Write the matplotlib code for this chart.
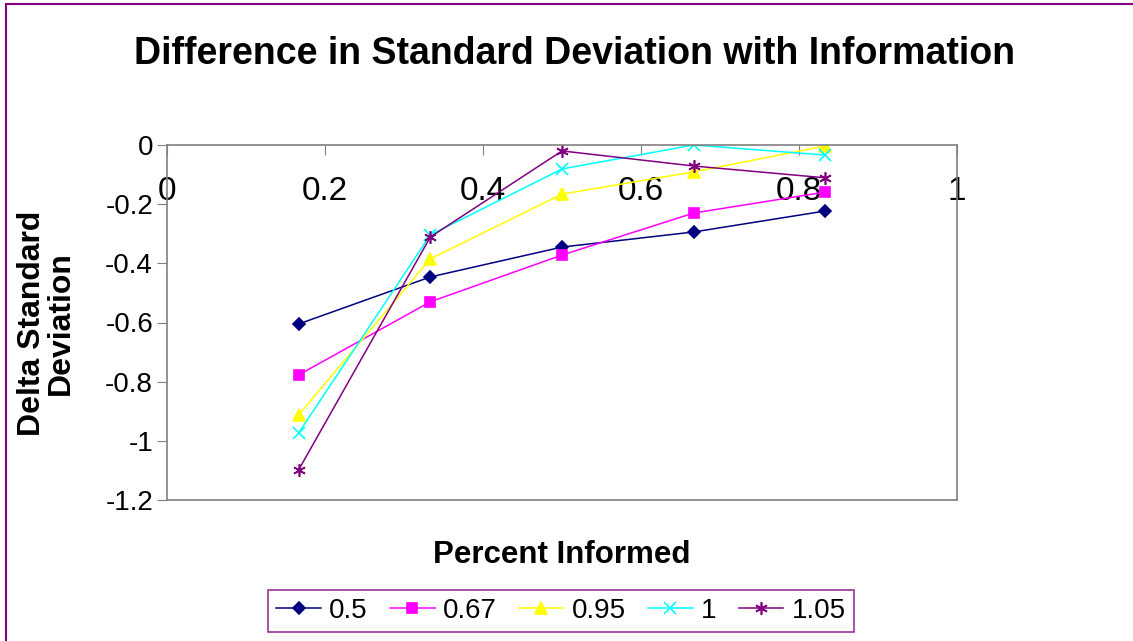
import matplotlib; matplotlib.use("Agg")
import matplotlib.pyplot as plt
from matplotlib.patches import Rectangle

plt.rcParams["font.family"] = ["Liberation Sans", "DejaVu Sans"]

# percent informed (x) and delta standard deviation per series
pct = [1/6, 2/6, 3/6, 4/6, 5/6]
labels = ["0.5", "0.67", "0.95", "1", "1.05"]
s05 = [-0.605, -0.446, -0.345, -0.294, -0.223]
s067 = [-0.777, -0.530, -0.372, -0.230, -0.159]
s095 = [-0.912, -0.385, -0.166, -0.091, -0.003]
s1 = [-0.973, -0.304, -0.081, 0.0, -0.034]
s105 = [-1.098, -0.311, -0.020, -0.071, -0.111]
series = [s05, s067, s095, s1, s105]
colors = ["#000080", "#FF00FF", "#FFFF00", "#00FFFF", "#800080"]
markers = ["D", "s", "^", "x", (6, 2, 0)]
msizes = [6.5, 7.5, 8, 8, 9]

W, H = 1133, 641
fig = plt.figure(figsize=(W/100, H/100), dpi=100)
ax = fig.add_axes([167/W, 1-500/H, (957-167)/W, (500-145)/H])

for ys, lab, c, m, ms in zip(series, labels, colors, markers, msizes):
    ax.plot(pct, ys, color=c, lw=1.1, marker=m, ms=ms, mfc=c, mec=c, mew=1.2, label=lab)

ax.set_xlim(0, 1); ax.set_ylim(-1.2, 0)
ax.set_xticks([0, 0.2, 0.4, 0.6, 0.8, 1.0])
ax.set_xticklabels(["0", "0.2", "0.4", "0.6", "0.8", "1"])
ax.set_yticks([0, -0.2, -0.4, -0.6, -0.8, -1.0, -1.2])
ax.set_yticklabels(["0", "-0.2", "-0.4", "-0.6", "-0.8", "-1", "-1.2"])
ax.tick_params(axis="x", top=True, bottom=False, labeltop=True, labelbottom=False,
               direction="in", length=7, color="#808080", labelsize=24, pad=-44.5)
ax.tick_params(axis="y", direction="out", length=7, color="#808080", labelsize=20, pad=3)
for s in ax.spines.values():
    s.set_color("#808080"); s.set_linewidth(1.2)

fig.text(575/W, 1-54/H, "Difference in Standard Deviation with Information",
         ha="center", va="center", fontsize=27, fontweight="bold")
fig.text(562/W, 1-555/H, "Percent Informed", ha="center", va="center",
         fontsize=22.5, fontweight="bold")
fig.text(46/W, 1-323/H, "Delta Standard\nDeviation", ha="center", va="center",
         fontsize=23, fontweight="bold", rotation=90, linespacing=0.95)

leg = fig.legend(loc="center", bbox_to_anchor=(561/W, 1-611/H), ncol=5, fontsize=20,
                 frameon=True, fancybox=False, edgecolor="#800080", handlelength=1.6,
                 handletextpad=0.3, columnspacing=0.8, borderpad=0.3)
leg.get_frame().set_linewidth(1.2)

fig.patches.append(Rectangle((6/W, -0.1), 1.2, 1.1 - 4/H, transform=fig.transFigure,
                             fill=False, edgecolor="#800080", lw=1.5))
fig.savefig("out.png", dpi=100)
